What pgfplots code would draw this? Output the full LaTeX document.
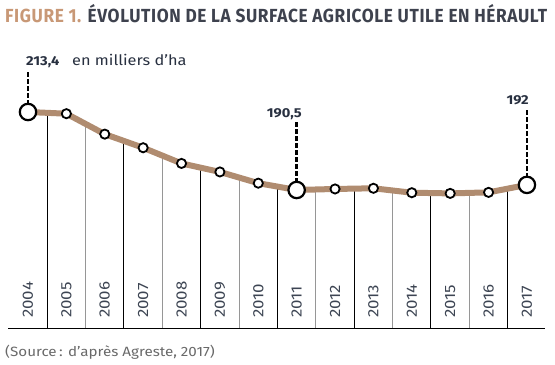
\documentclass[border=0pt]{standalone}
\usepackage{fontspec}
\setmainfont{Fira Sans}[FakeStretch=1.13]
\newfontfamily\titlefont{Fira Sans}[FakeStretch=1.13, LetterSpace=4]
\usepackage{pgfplots}
\pgfplotsset{compat=1.18}
\definecolor{brownline}{RGB}{176,140,112}
\definecolor{tan}{RGB}{200,152,118}
\definecolor{titlegray}{RGB}{62,66,78}
\definecolor{labdark}{RGB}{40,48,64}
\definecolor{sepgray}{RGB}{150,150,150}
\definecolor{srcgray}{RGB}{105,105,105}
\begin{document}
\begin{tikzpicture}
\begin{axis}[
  scale only axis, width=555bp, height=365bp,
  xmin=2003.2705, xmax=2017.731,
  ymin=139.12, ymax=246.28,
  hide axis, clip=false,
]
\path (rel axis cs:0,0) rectangle (rel axis cs:1,1);
% separators (black / gray alternating)
\addplot[black, line width=1bp] coordinates {(2004.5,149.84) (2004.5,212.9)};
\addplot[sepgray, line width=1bp] coordinates {(2005.5,149.84) (2005.5,209.9)};
\addplot[black, line width=1bp] coordinates {(2006.5,149.84) (2006.5,204.9)};
\addplot[sepgray, line width=1bp] coordinates {(2007.5,149.84) (2007.5,200.6)};
\addplot[black, line width=1bp] coordinates {(2008.5,149.84) (2008.5,197.0)};
\addplot[sepgray, line width=1bp] coordinates {(2009.5,149.84) (2009.5,194.1)};
\addplot[black, line width=1bp] coordinates {(2010.5,149.84) (2010.5,191.5)};
\addplot[sepgray, line width=1bp] coordinates {(2011.5,149.84) (2011.5,190.6)};
\addplot[black, line width=1bp] coordinates {(2012.5,149.84) (2012.5,190.9)};
\addplot[sepgray, line width=1bp] coordinates {(2013.5,149.84) (2013.5,190.3)};
\addplot[black, line width=1bp] coordinates {(2014.5,149.84) (2014.5,189.6)};
\addplot[sepgray, line width=1bp] coordinates {(2015.5,149.84) (2015.5,189.6)};
\addplot[black, line width=1bp] coordinates {(2016.5,149.84) (2016.5,190.9)};
% baseline
\addplot[black, line width=1.5bp] coordinates {(2003.479,149.84) (2017.47,149.84)};
% dashed leaders
\addplot[black, line width=2.6bp, dash pattern=on 4.5bp off 2.5bp] coordinates {(2004,213.4) (2004,225.14)};
\addplot[black, line width=2.6bp, dash pattern=on 4.5bp off 2.5bp] coordinates {(2011,190.5) (2011,210.46)};
\addplot[black, line width=2.6bp, dash pattern=on 4.5bp off 2.5bp] coordinates {(2017,192) (2017,214.28)};
% main line
\addplot[brownline, line width=6bp, line join=round] coordinates {
 (2004,213.4) (2005,212.9) (2006,206.9) (2007,202.9) (2008,198.3) (2009,195.8)
 (2010,192.5) (2011,190.5) (2012,190.8) (2013,191.0) (2014,189.7) (2015,189.5)
 (2016,189.8) (2017,192)};
% small markers
\addplot[only marks, mark=*, mark size=4.6bp, mark options={fill=white, draw=black, line width=1.8bp}] coordinates {
 (2005,212.9) (2006,206.9) (2007,202.9) (2008,198.3) (2009,195.8)
 (2010,192.5) (2012,190.8) (2013,191.0) (2014,189.7) (2015,189.5) (2016,189.8)};
% big markers
\addplot[only marks, mark=*, mark size=8.2bp, mark options={fill=white, draw=black, line width=2.2bp}] coordinates {
 (2004,213.4) (2011,190.5) (2017,192)};
% year labels
\foreach \yr in {2004,...,2017} {
  \edef\temp{\noexpand\node[rotate=90, anchor=west, inner sep=0pt, font=\noexpand\fontsize{15}{15}\noexpand\selectfont, text=labdark!90] at (axis cs:\yr,152.92) {\yr};}
  \temp
}
% value labels
\node[anchor=base west, inner sep=0pt, font=\bfseries\fontsize{13}{14}\selectfont, text=labdark] at (rel axis cs:{26/555},{1-66/365}) {213,4};
\node[anchor=base west, inner sep=0pt, font=\fontsize{14.5}{15}\selectfont, text=labdark] at (rel axis cs:{72/555},{1-66/365}) {en milliers d’ha};
\node[anchor=base east, inner sep=0pt, font=\bfseries\fontsize{13}{14}\selectfont, text=labdark] at (rel axis cs:{302/555},{1-118/365}) {190,5};
\node[anchor=base east, inner sep=0pt, font=\bfseries\fontsize{13}{14}\selectfont, text=labdark] at (rel axis cs:{529/555},{1-105/365}) {192};
% title
\node[anchor=base west, inner sep=0pt, font=\titlefont\bfseries\fontsize{19}{20}\selectfont] at (rel axis cs:{5/555},{1-23/365}) {\scalebox{0.808}[1]{\textcolor{tan}{FIGURE 1.} \textcolor{titlegray}{ÉVOLUTION DE LA SURFACE AGRICOLE UTILE EN HÉRAULT}}};
% source
\node[anchor=base west, inner sep=0pt, font=\fontsize{13.5}{14}\selectfont, text=srcgray] at (rel axis cs:{5/555},{1-356/365}) {(Source\,: d’après Agreste, 2017)};
\end{axis}
\end{tikzpicture}
\end{document}
